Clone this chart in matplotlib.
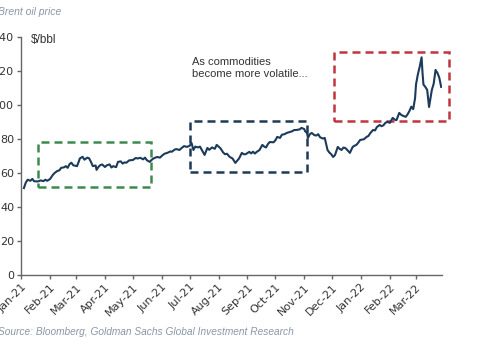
import matplotlib
matplotlib.use('Agg')
import matplotlib.pyplot as plt
import matplotlib.dates as mdates
from matplotlib.patches import Rectangle
import pandas as pd

# Brent front-month, $/bbl
dates = ['2021-01-04', '2021-01-06', '2021-01-08', '2021-01-11', '2021-01-13', '2021-01-15',
         '2021-01-19', '2021-01-22', '2021-01-25', '2021-01-27', '2021-01-29',
         '2021-02-01', '2021-02-04', '2021-02-06', '2021-02-09', '2021-02-11', '2021-02-13',
         '2021-02-16', '2021-02-18', '2021-02-20', '2021-02-22', '2021-02-24', '2021-02-26',
         '2021-03-02', '2021-03-04', '2021-03-05', '2021-03-08', '2021-03-10', '2021-03-13',
         '2021-03-15', '2021-03-17', '2021-03-19', '2021-03-22', '2021-03-23', '2021-03-25',
         '2021-03-27', '2021-03-29', '2021-04-01', '2021-04-03', '2021-04-06', '2021-04-08',
         '2021-04-10', '2021-04-13', '2021-04-15', '2021-04-18', '2021-04-20', '2021-04-22',
         '2021-04-24', '2021-04-27', '2021-05-01', '2021-05-04', '2021-05-06', '2021-05-09',
         '2021-05-12', '2021-05-14', '2021-05-16', '2021-05-19', '2021-05-21', '2021-05-23',
         '2021-05-27', '2021-05-30', '2021-06-02', '2021-06-04', '2021-06-07', '2021-06-10',
         '2021-06-12', '2021-06-15', '2021-06-17', '2021-06-20', '2021-06-22', '2021-06-25',
         '2021-06-28', '2021-07-01', '2021-07-03', '2021-07-05', '2021-07-07', '2021-07-10',
         '2021-07-12', '2021-07-14', '2021-07-17', '2021-07-20', '2021-07-22', '2021-07-25',
         '2021-07-28', '2021-07-30', '2021-08-03', '2021-08-06', '2021-08-08', '2021-08-10',
         '2021-08-13', '2021-08-16', '2021-08-19', '2021-08-21', '2021-08-23', '2021-08-26',
         '2021-08-28', '2021-08-30', '2021-09-03', '2021-09-05', '2021-09-07', '2021-09-09',
         '2021-09-11', '2021-09-14', '2021-09-17', '2021-09-19', '2021-09-21', '2021-09-23',
         '2021-09-25', '2021-09-29', '2021-10-01', '2021-10-03', '2021-10-06', '2021-10-08',
         '2021-10-11', '2021-10-13', '2021-10-16', '2021-10-19', '2021-10-21', '2021-10-24',
         '2021-10-27', '2021-10-29', '2021-11-01', '2021-11-02', '2021-11-04', '2021-11-05',
         '2021-11-07', '2021-11-09', '2021-11-12', '2021-11-14', '2021-11-16', '2021-11-18',
         '2021-11-21', '2021-11-23', '2021-11-26', '2021-11-28', '2021-11-30', '2021-12-02',
         '2021-12-04', '2021-12-07', '2021-12-09', '2021-12-11', '2021-12-13', '2021-12-15',
         '2021-12-17', '2021-12-20', '2021-12-23', '2021-12-25', '2021-12-27', '2021-12-29',
         '2021-12-31', '2022-01-04', '2022-01-07', '2022-01-09', '2022-01-11', '2022-01-14',
         '2022-01-16', '2022-01-18', '2022-01-21', '2022-01-23', '2022-01-25', '2022-01-27',
         '2022-01-29', '2022-02-01', '2022-02-04', '2022-02-06', '2022-02-08', '2022-02-11',
         '2022-02-13', '2022-02-15', '2022-02-18', '2022-02-20', '2022-02-22', '2022-02-24',
         '2022-02-26', '2022-02-28', '2022-03-01', '2022-03-03', '2022-03-05', '2022-03-07',
         '2022-03-08', '2022-03-09', '2022-03-11', '2022-03-13', '2022-03-15', '2022-03-18',
         '2022-03-20', '2022-03-22', '2022-03-24', '2022-03-26', '2022-03-28']
prices = [51.1, 54.3, 56.0, 55.4, 56.5, 55.1,
          55.0, 55.6, 55.2, 56.0, 55.4,
          56.4, 58.8, 60.0, 61.2, 61.5, 63.0,
          63.3, 64.0, 63.0, 65.2, 66.0, 64.5,
          64.0, 66.8, 68.5, 69.5, 67.8, 69.0,
          68.6, 66.5, 64.0, 64.4, 61.8, 63.5,
          64.6, 65.0, 63.5, 64.5, 65.0, 63.2,
          64.0, 63.4, 66.5, 66.8, 65.5, 66.2,
          66.0, 67.4, 67.6, 68.8, 68.5, 68.9,
          68.0, 69.0, 67.5, 66.5, 67.6, 68.5,
          69.4, 69.0, 70.5, 71.3, 71.8, 72.6,
          72.5, 73.8, 74.0, 73.5, 74.5, 75.8,
          75.3, 76.0, 77.6, 73.5, 75.5, 75.0,
          75.5, 73.5, 70.6, 74.7, 73.6, 75.0,
          74.2, 76.5, 74.5, 72.0, 71.0, 71.3,
          69.4, 68.5, 65.9, 67.2, 68.5, 71.8,
          71.0, 71.0, 72.4, 71.5, 72.5, 71.4,
          72.4, 73.5, 76.5, 75.5, 75.0, 77.0,
          78.2, 78.0, 79.2, 81.2, 80.6, 82.5,
          82.8, 83.5, 84.0, 84.5, 85.2, 85.3,
          85.6, 86.5, 85.8, 84.5, 83.5, 80.6,
          82.8, 83.5, 82.2, 82.0, 82.8, 81.0,
          80.2, 80.6, 73.5, 72.0, 71.0, 69.4,
          70.5, 75.3, 74.2, 73.5, 74.9, 74.7,
          73.6, 71.8, 75.3, 76.0, 76.5, 77.8,
          79.4, 79.8, 81.2, 81.8, 83.5, 85.3,
          85.0, 87.0, 88.2, 87.5, 88.0, 89.4,
          90.0, 89.5, 92.4, 91.4, 91.0, 95.3,
          94.2, 93.6, 93.0, 94.5, 96.5, 99.0,
          97.5, 104.0, 112.0, 118.0, 122.5, 128.0,
          118.8, 112.0, 110.6, 108.8, 98.8, 108.8,
          112.5, 120.6, 118.8, 116.0, 110.6]

# highlighted regimes: (start, end, low, high, colour)
boxes = [('2021-01-19', '2021-05-20', 52, 78, '#3d8a4f'),
         ('2021-07-01', '2021-11-04', 60.5, 90.5, '#1f3a56'),
         ('2021-12-03', '2022-04-05', 90.5, 131, '#c0353e')]

month_ticks = pd.date_range('2021-01-01', '2022-03-01', freq='MS')

df = pd.DataFrame({'date': pd.to_datetime(dates), 'price': prices})

fig = plt.figure(figsize=(4.8, 3.45), dpi=100)
ax = fig.add_axes([0.044, 0.203, 0.877, 0.69])
plt.rcParams['font.family'] = ['Liberation Sans', 'DejaVu Sans']

ax.plot(df['date'], df['price'], color='#1c3a5a', lw=1.5, zorder=3)

for start, end, lo, hi, col in boxes:
    x0 = mdates.date2num(pd.Timestamp(start))
    x1 = mdates.date2num(pd.Timestamp(end))
    rect = Rectangle((x0, lo), x1 - x0, hi - lo, fill=False, edgecolor=col,
                     lw=1.8, linestyle=(0, (3.2, 2.0)), clip_on=False, zorder=2)
    ax.add_patch(rect)

ax.set_ylim(0, 140)
ax.set_yticks(range(0, 141, 20))
ax.set_xlim(pd.Timestamp('2021-01-01'), pd.Timestamp('2022-03-29'))
ax.set_xticks(month_ticks)
ax.xaxis.set_major_formatter(mdates.DateFormatter('%b-%y'))
for lab in ax.get_xticklabels():
    lab.set_rotation(45)
    lab.set_ha('right')
    lab.set_rotation_mode('anchor')

for s in ['top', 'right']:
    ax.spines[s].set_visible(False)
for s in ['left', 'bottom']:
    ax.spines[s].set_color('#666666')
    ax.spines[s].set_linewidth(1.0)
ax.tick_params(axis='both', direction='out', length=3, width=1.0, color='#666666',
               labelsize=8, labelcolor='#333333', pad=2)

fig.text(-0.004, 0.965, 'Brent oil price', fontsize=7.5, style='italic',
         color='#8a97a8', va='center', ha='left')
fig.text(0.064, 0.885, '$/bbl', fontsize=8.5, color='#333333', va='center', ha='left')
fig.text(0.4, 0.803, 'As commodities\nbecome more volatile...', fontsize=8,
         color='#333333', va='center', ha='left', linespacing=1.3)
fig.text(-0.004, 0.038, 'Source: Bloomberg, Goldman Sachs Global Investment Research',
         fontsize=7.3, style='italic', color='#8a97a8', va='center', ha='left')

fig.savefig('out.png', dpi=100)
